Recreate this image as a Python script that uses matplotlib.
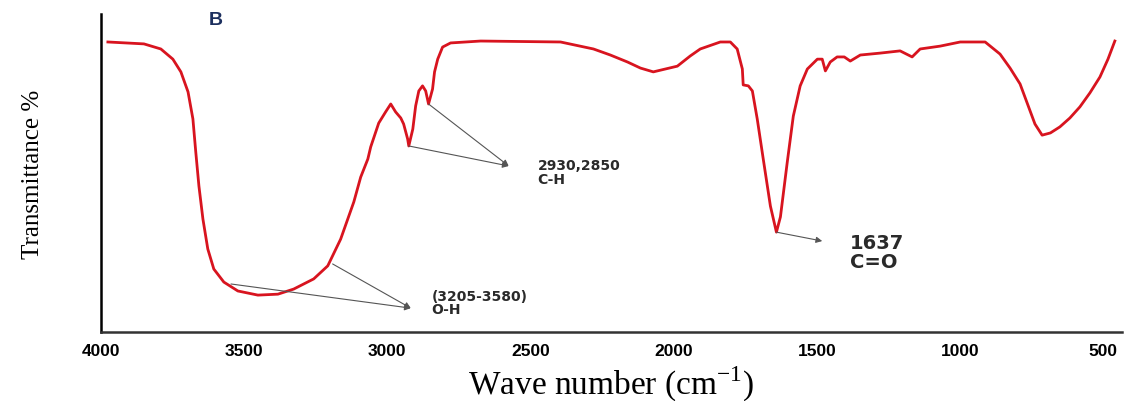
import numpy as np
import matplotlib
matplotlib.use("Agg")
import matplotlib.pyplot as plt

# wavenumber (cm-1) and transmittance (%)
wn = [3976, 3850, 3791, 3749, 3721, 3696, 3679, 3669, 3658, 3644,
      3627, 3606, 3571, 3522, 3452, 3382, 3327, 3257, 3208, 3163,
      3117, 3093, 3068, 3058, 3030, 3006, 2988, 2971, 2953, 2943,
      2929, 2925, 2911, 2901, 2890, 2877, 2866, 2856, 2842, 2835,
      2824, 2807, 2779, 2674, 2395, 2280, 2221, 2161, 2116, 2071,
      2029, 1987, 1942, 1907, 1837, 1802, 1778, 1760, 1757, 1739,
      1725, 1708, 1687, 1662, 1641, 1627, 1603, 1582, 1558, 1533,
      1498, 1481, 1470, 1453, 1429, 1404, 1383, 1348, 1279, 1209,
      1167, 1139, 1069, 999, 912, 860, 825, 790, 738, 713,
      684, 651, 616, 581, 546, 511, 483, 459]
trans = [91.2, 90.6, 89.0, 85.8, 81.8, 75.5, 67.0, 56.6, 45.9, 35.5,
         26.1, 19.8, 15.7, 12.9, 11.6, 11.9, 13.5, 16.7, 20.8, 29.2,
         40.9, 48.7, 54.4, 58.2, 65.7, 69.2, 71.7, 69.2, 67.3, 65.4,
         60.7, 58.5, 63.8, 71.1, 75.8, 77.4, 75.8, 71.7, 76.4, 81.8,
         85.8, 89.6, 90.9, 91.5, 91.2, 89.0, 87.1, 84.9, 83.0, 81.8,
         82.7, 83.6, 86.8, 89.0, 91.2, 91.2, 89.0, 82.7, 77.7, 77.4,
         75.8, 67.0, 54.4, 39.6, 31.4, 36.2, 53.5, 67.9, 77.4, 82.7,
         85.8, 85.8, 82.1, 84.9, 86.5, 86.5, 85.2, 87.1, 87.7, 88.4,
         86.5, 89.0, 89.9, 91.2, 91.2, 87.4, 83.0, 78.0, 65.4, 61.9,
         62.6, 64.5, 67.3, 70.8, 75.2, 80.2, 85.8, 91.5]
xticks = [4000, 3500, 3000, 2500, 2000, 1500, 1000, 500]

plt.rcParams['mathtext.fontset'] = 'custom'
plt.rcParams['mathtext.rm'] = 'Liberation Serif'

fig = plt.figure(figsize=(11.36, 4.02), dpi=100)
ax = fig.add_axes([101/1136, 69/402, 1021/1136, 318/402])
ax.plot(wn, trans, color='#d8141f', lw=2.0, solid_joinstyle='round')
ax.set_xlim(4000, 434)
ax.set_ylim(0, 100)

for s in ['top', 'right']:
    ax.spines[s].set_visible(False)
ax.spines['left'].set_linewidth(1.8)
ax.spines['bottom'].set_linewidth(1.8)
ax.spines['bottom'].set_color('#333333')
ax.set_yticks([])
ax.set_xticks(xticks)
ax.set_xticklabels([str(v) for v in xticks], family='Liberation Sans',
                   fontweight='bold', fontsize=12.5)
ax.tick_params(axis='x', length=0, pad=8)

ax.set_ylabel('Transmittance %', family='Liberation Serif', fontsize=18)
ax.yaxis.set_label_coords(-0.056, 0.5)
ax.set_xlabel(r'Wave number (cm$^{-1}$)', family='Liberation Serif', fontsize=24)
ax.xaxis.set_label_coords(0.5, -0.10)

ax.text(3599, 98.4, 'B', family='Liberation Sans', fontweight='bold', fontsize=14,
        color='#1c2f5e', ha='center', va='center')

arrow = dict(arrowstyle='-|>', color='#555555', lw=0.8, mutation_scale=9,
             shrinkA=0, shrinkB=0)
ah = dict(fontsize=10, family='DejaVu Sans', fontweight='bold',
          color='#2a2a2a', va='center')

# O-H
ax.annotate('', xy=(2918, 7.5), xytext=(3546, 15.1), arrowprops=arrow)
ax.annotate('', xy=(2918, 7.5), xytext=(3191, 21.4), arrowprops=arrow)
ax.text(2845, 9.3, '(3205-3580)\nO-H', linespacing=0.95, **ah)

# C-H
ax.annotate('', xy=(2576, 52.2), xytext=(2856, 71.7), arrowprops=arrow)
ax.annotate('', xy=(2576, 52.2), xytext=(2925, 58.5), arrowprops=arrow)
ax.text(2475, 50.3, '2930,2850\nC-H', linespacing=0.95, **ah)

# C=O
ax.annotate('', xy=(1481, 28.6), xytext=(1641, 31.4), arrowprops=arrow)
ax.text(1383, 25.0, '1637\nC=O', linespacing=1.0, fontsize=14,
        family='DejaVu Sans', fontweight='bold', color='#2a2a2a', va='center')

fig.savefig('out.png', dpi=100)
